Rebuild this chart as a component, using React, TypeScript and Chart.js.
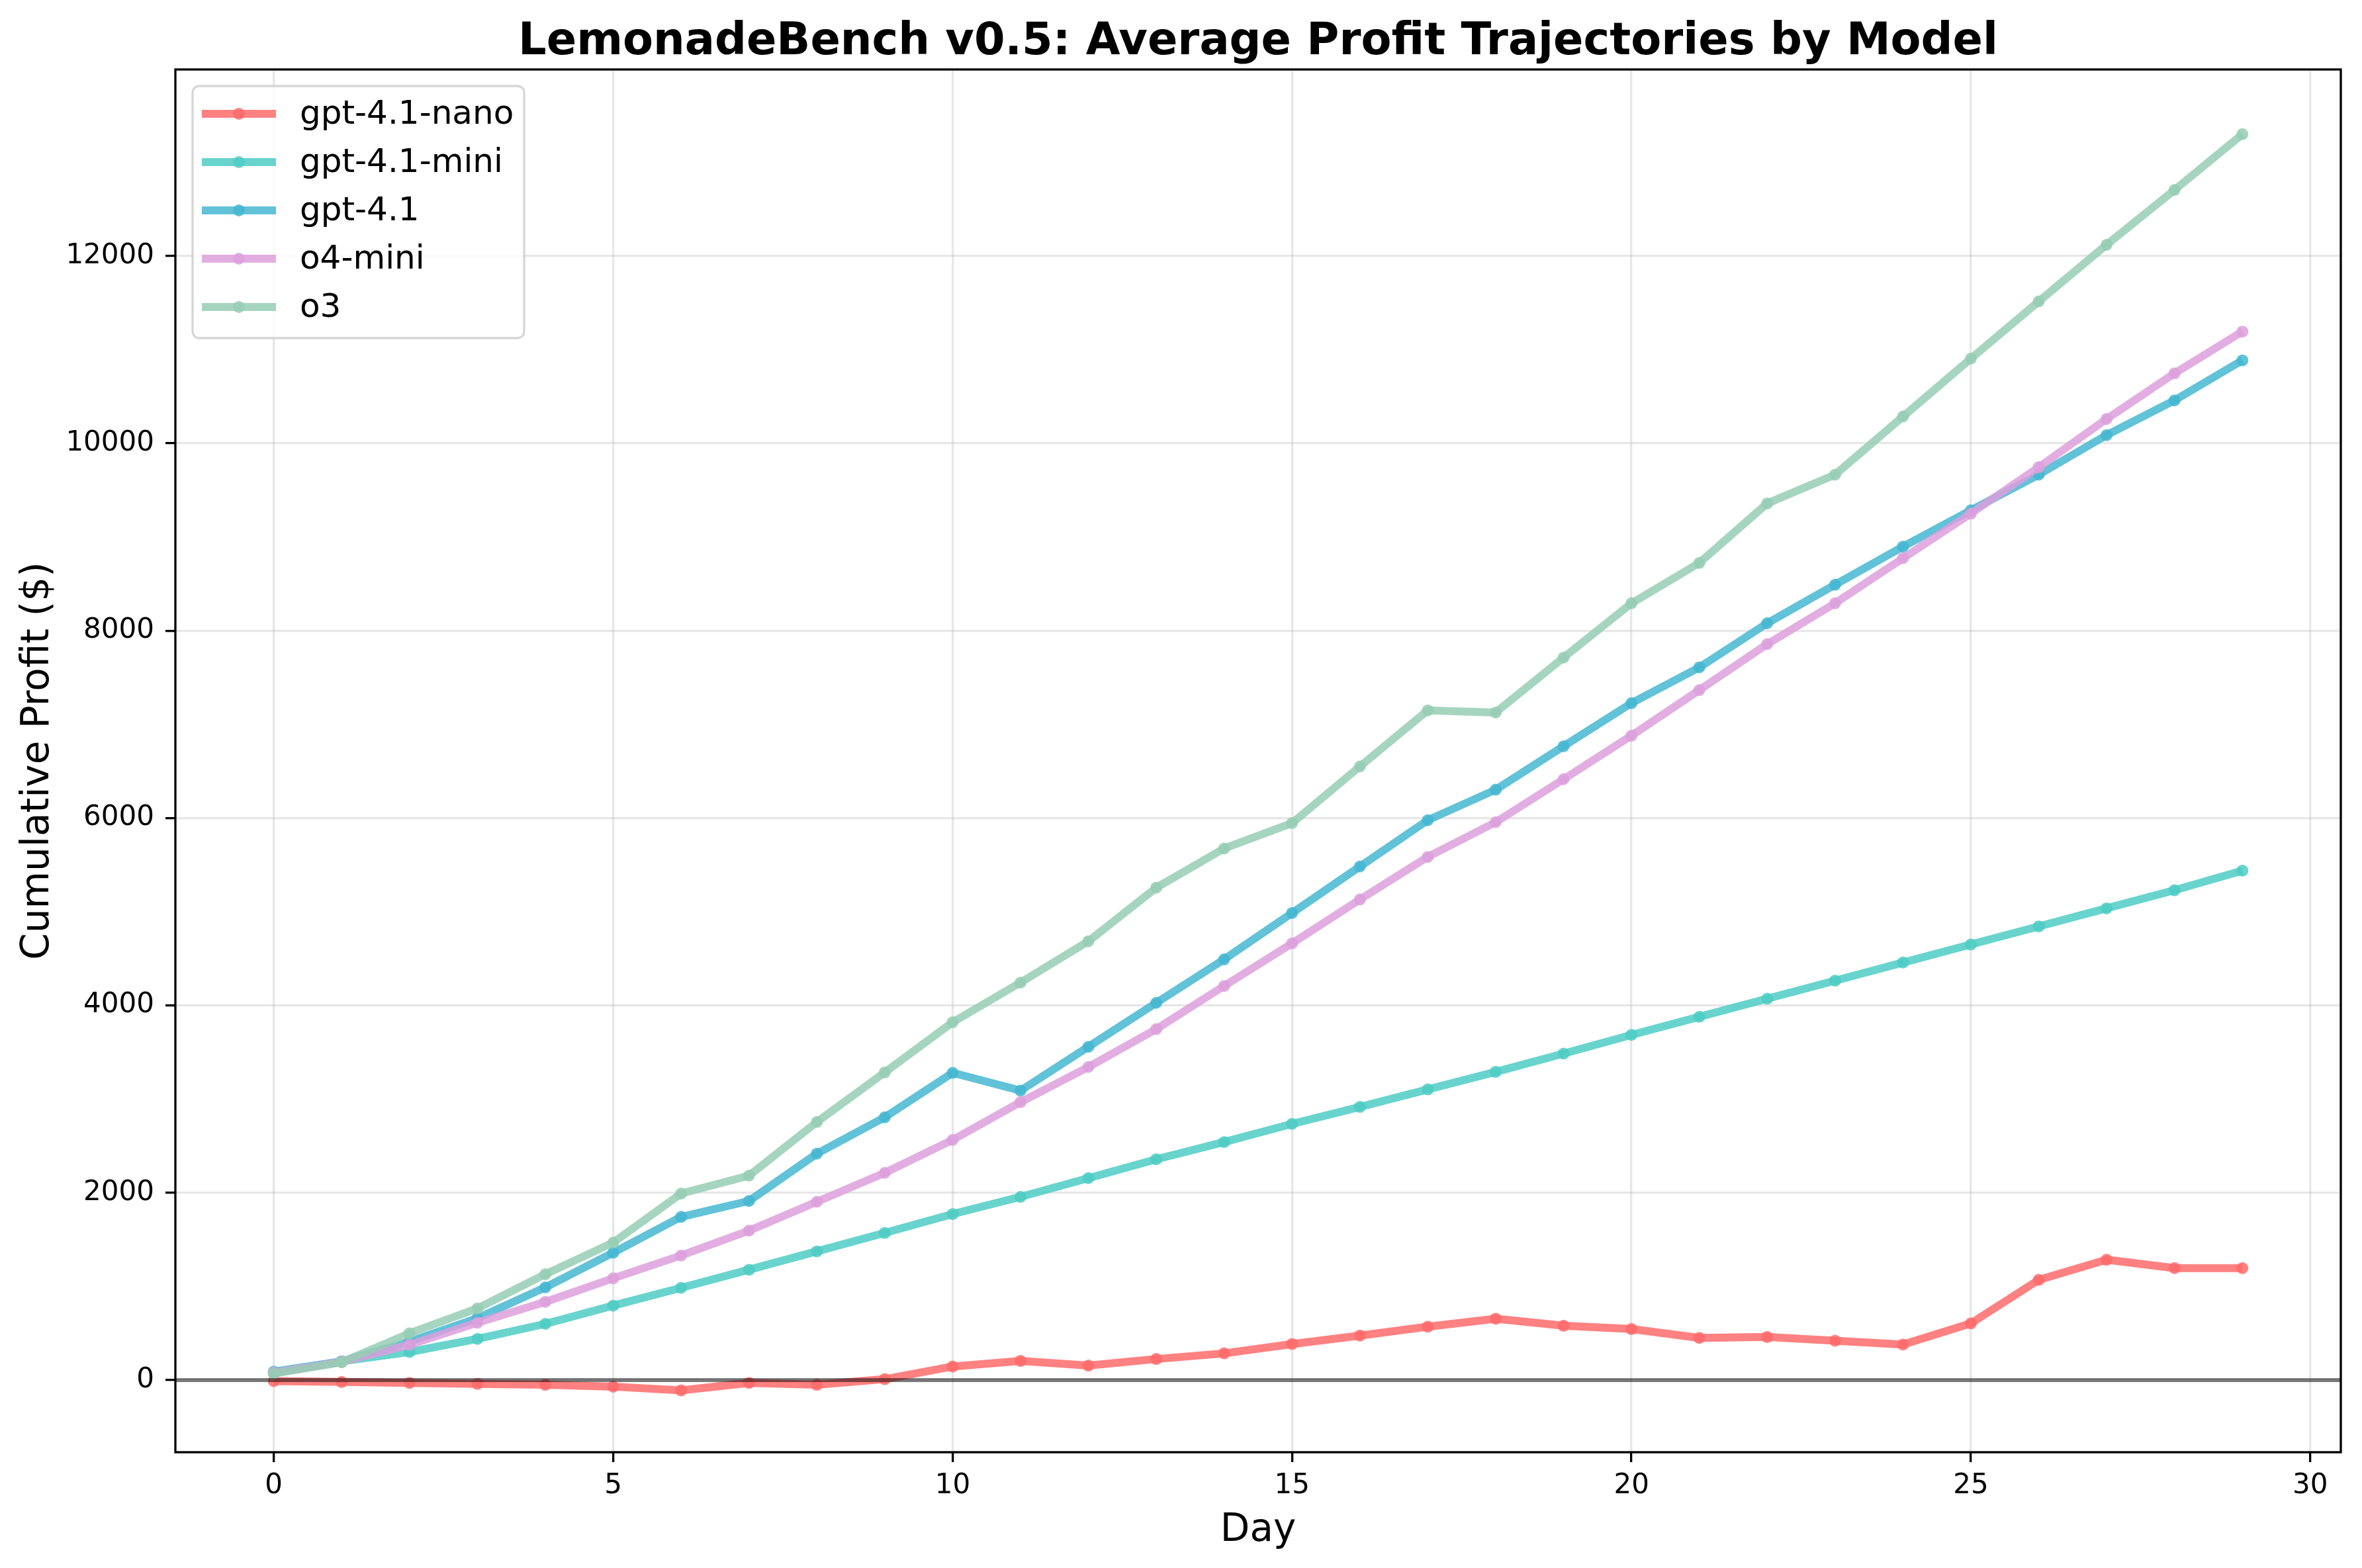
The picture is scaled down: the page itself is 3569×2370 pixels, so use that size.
import React, { useEffect, useRef } from "react";
import { Chart, registerables } from "chart.js";

Chart.register(...registerables);

const days = [0, 1, 2, 3, 4, 5, 6, 7, 8, 9, 10, 11, 12, 13, 14, 15, 16, 17, 18, 19, 20, 21, 22, 23, 24, 25, 26, 27, 28, 29];

const models = ["gpt-4.1-nano", "gpt-4.1-mini", "gpt-4.1", "o4-mini", "o3"];
const colors = ["#FF6B6B", "#4ECDC4", "#45B7D1", "#DDA0DD", "#96CEB4"];

const nano = [-10, -20, -30, -40, -50, -70, -110, -30, -50, 10, 145, 205, 155, 225, 285, 385, 475, 570, 655, 580, 545, 450, 460, 420, 380, 605, 1070, 1285, 1195, 1195];
const mini = [75, 200, 300, 440, 600, 795, 985, 1178, 1374, 1571, 1772, 1956, 2156, 2357, 2541, 2735, 2916, 3103, 3290, 3485, 3685, 3878, 4071, 4264, 4457, 4650, 4843, 5036, 5229, 5438];
const gpt41 = [90, 200, 410, 660, 990, 1360, 1742, 1912, 2417, 2805, 3280, 3090, 3558, 4027, 4491, 4986, 5482, 5977, 6302, 6766, 7226, 7608, 8079, 8490, 8897, 9284, 9665, 10087, 10458, 10885];
const o4mini = [80, 195, 377, 612, 835, 1087, 1330, 1595, 1903, 2212, 2564, 2967, 3342, 3747, 4207, 4662, 5130, 5585, 5955, 6414, 6879, 7365, 7856, 8292, 8773, 9249, 9745, 10260, 10746, 11192];
const o3 = [70, 190, 500, 765, 1130, 1468, 1991, 2182, 2755, 3284, 3820, 4243, 4684, 5256, 5675, 5946, 6550, 7149, 7126, 7712, 8292, 8723, 9358, 9665, 10285, 10904, 11514, 12119, 12704, 13299];

const series = [nano, mini, gpt41, o4mini, o3];

const xTicks = [0, 5, 10, 15, 20, 25, 30];
const yTicks = [0, 2000, 4000, 6000, 8000, 10000, 12000];

const FONT = "'DejaVu Sans', sans-serif";

function withAlpha(hex: string, a: number) {
  const n = parseInt(hex.slice(1), 16);
  return `rgba(${(n >> 16) & 255}, ${(n >> 8) & 255}, ${n & 255}, ${a})`;
}

// matplotlib-ish extras: title, zero line, four spines, framed legend in the upper left
const decorations = {
  id: "decorations",
  afterDatasetsDraw(chart: any) {
    const ctx = chart.ctx;
    const { left, right, top, bottom } = chart.chartArea;
    const y0 = chart.scales.y.getPixelForValue(0);

    ctx.save();
    ctx.strokeStyle = "rgba(0, 0, 0, 0.5)";
    ctx.lineWidth = 6;
    ctx.beginPath();
    ctx.moveTo(left, y0);
    ctx.lineTo(right, y0);
    ctx.stroke();

    ctx.strokeStyle = "#000";
    ctx.lineWidth = 3.3;
    ctx.strokeRect(left, top, right - left, bottom - top);

    // legend
    const bx = left + 26;
    const by = top + 25;
    const bw = 501;
    const bh = 381;
    ctx.fillStyle = "rgba(255, 255, 255, 0.8)";
    ctx.strokeStyle = "rgba(204, 204, 204, 0.8)";
    ctx.lineWidth = 3.3;
    ctx.beginPath();
    ctx.roundRect(bx, by, bw, bh, 10);
    ctx.fill();
    ctx.stroke();

    ctx.font = `50px ${FONT}`;
    ctx.textBaseline = "middle";
    ctx.textAlign = "left";
    chart.data.datasets.forEach((ds: any, i: number) => {
      const ry = by + 42 + i * 73;
      ctx.strokeStyle = ds.borderColor;
      ctx.lineWidth = 12;
      ctx.beginPath();
      ctx.moveTo(bx + 14, ry);
      ctx.lineTo(bx + 126, ry);
      ctx.stroke();
      ctx.fillStyle = ds.pointBackgroundColor;
      ctx.beginPath();
      ctx.arc(bx + 70, ry, 9, 0, Math.PI * 2);
      ctx.fill();
      ctx.fillStyle = "#000";
      ctx.fillText(ds.label, bx + 162, ry + 2);
    });

    // title
    ctx.font = `bold 67px ${FONT}`;
    ctx.textAlign = "center";
    ctx.textBaseline = "alphabetic";
    ctx.fillStyle = "#000";
    ctx.fillText("LemonadeBench v0.5: Average Profit Trajectories by Model", (left + right) / 2, 82);
    ctx.restore();
  },
};

export default function App() {
  const canvasRef = useRef<HTMLCanvasElement>(null);

  useEffect(() => {
    document.body.style.margin = "0";
    const ctx = canvasRef.current?.getContext("2d");
    if (!ctx) return;

    const chart = new Chart(ctx, {
      type: "line",
      data: {
        datasets: models.map((name, i) => ({
          label: name,
          data: series[i].map((v, j) => ({ x: days[j], y: v })),
          borderColor: withAlpha(colors[i], 0.85),
          backgroundColor: withAlpha(colors[i], 0.85),
          pointBackgroundColor: withAlpha(colors[i], 0.85),
          borderWidth: 12,
          pointRadius: 9,
          pointBorderWidth: 0,
          pointHoverRadius: 9,
          borderJoinStyle: "round" as const,
          tension: 0,
          order: models.length - i,
        })),
      },
      options: {
        animation: false,
        responsive: true,
        maintainAspectRatio: false,
        devicePixelRatio: 1,
        layout: { padding: { top: 105, right: 32, left: 0, bottom: 0 } },
        plugins: {
          legend: { display: false },
          tooltip: { enabled: false },
        },
        scales: {
          x: {
            type: "linear",
            min: -1.45,
            max: 30.45,
            afterBuildTicks: (s: any) => {
              s.ticks = xTicks.map((v) => ({ value: v }));
            },
            afterFit: (s: any) => {
              s.height = 175;
            },
            border: { display: false },
            grid: {
              color: "rgba(176, 176, 176, 0.3)",
              lineWidth: 3.3,
              tickColor: "#000",
              tickWidth: 3.3,
              tickLength: 15,
            },
            ticks: {
              color: "#000",
              padding: 11,
              font: { family: FONT, size: 42 },
              callback: (v: any) => String(v),
            },
            title: {
              display: true,
              text: "Day",
              color: "#000",
              font: { family: FONT, size: 58 },
              padding: { top: 0, bottom: 21 },
            },
          },
          y: {
            type: "linear",
            min: -770,
            max: 13990,
            afterBuildTicks: (s: any) => {
              s.ticks = yTicks.map((v) => ({ value: v }));
            },
            afterFit: (s: any) => {
              s.width = 265;
            },
            border: { display: false },
            grid: {
              color: "rgba(176, 176, 176, 0.3)",
              lineWidth: 3.3,
              tickColor: "#000",
              tickWidth: 3.3,
              tickLength: 15,
            },
            ticks: {
              color: "#000",
              padding: 17,
              font: { family: FONT, size: 42 },
              callback: (v: any) => String(v),
            },
            title: {
              display: true,
              text: "Cumulative Profit ($)",
              color: "#000",
              font: { family: FONT, size: 58 },
              padding: { top: 23, bottom: 0 },
            },
          },
        },
      },
      plugins: [decorations],
    });

    return () => chart.destroy();
  }, []);

  return (
    <div style={{ width: 3569, height: 2370, position: "relative", background: "#fff" }}>
      <canvas ref={canvasRef}></canvas>
    </div>
  );
}
